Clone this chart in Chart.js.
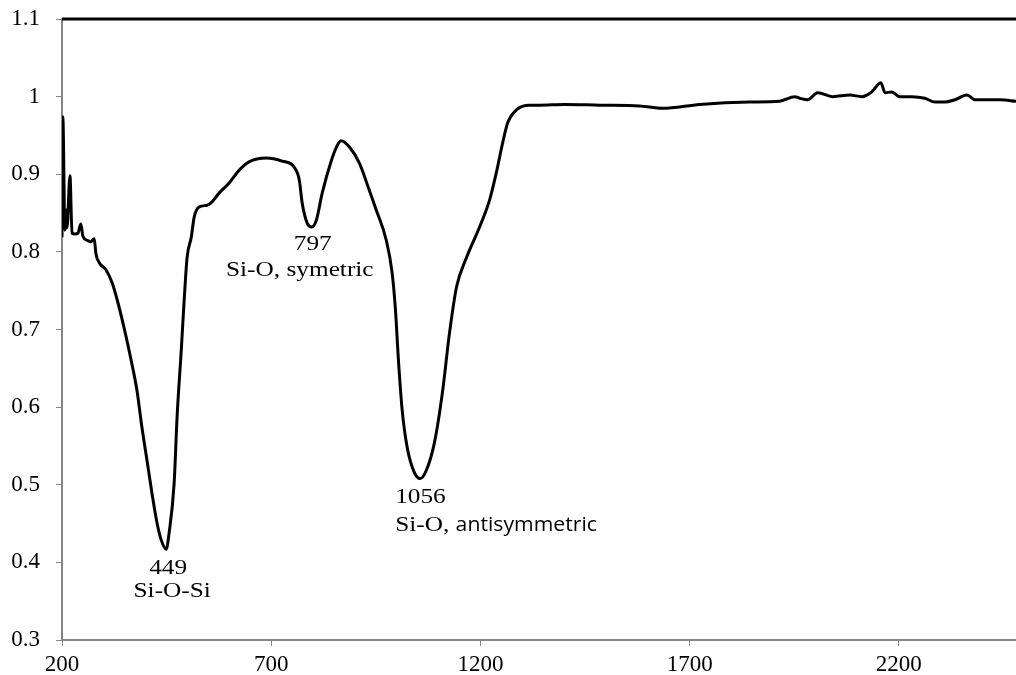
<!DOCTYPE html>
<html>
<head>
<meta charset="utf-8">
<script src="https://cdn.jsdelivr.net/npm/chart.js@4.4.1/dist/chart.umd.min.js"></script>
<style>
  html, body { margin: 0; padding: 0; background: #fff; }
  #wrap { width: 1016px; height: 675px; }
</style>
</head>
<body>
<div id="wrap"><canvas id="spektrum"></canvas></div>
<script>
// So song (cm-1) va do truyen qua, doc tu hinh
var wavenumber = [200, 202, 207, 210, 212, 219, 224, 231, 238, 245, 250, 260, 269, 277, 281, 289, 305, 320, 332,
  348, 365, 379, 391, 403, 415, 427, 437, 449, 456, 468, 475, 485, 492, 499, 509, 516, 528, 547, 556,
  576, 600, 623, 647, 688, 726, 755, 767, 774, 786, 797, 808, 822, 844, 856, 867, 887, 911, 934, 951,
  975, 989, 997, 1004, 1013, 1025, 1042, 1056, 1071, 1090, 1109, 1126, 1143, 1167, 1198, 1222, 1238,
  1253, 1265, 1286, 1317, 1341, 1400, 1485, 1580, 1635, 1724, 1843, 1915, 1951, 1963, 1982, 2006,
  2042, 2083, 2112, 2135, 2157, 2167, 2183, 2202, 2231, 2262, 2286, 2310, 2334, 2363, 2382, 2442, 2480];
var transmittance = [0.819, 0.974, 0.828, 0.854, 0.831, 0.898, 0.824, 0.823, 0.824, 0.836, 0.820, 0.815, 0.813, 0.817, 0.798, 0.786, 0.777, 0.760, 0.738,
  0.703, 0.661, 0.622, 0.574, 0.532, 0.489, 0.451, 0.429, 0.417, 0.438, 0.502, 0.587, 0.673, 0.738, 0.793, 0.819, 0.845, 0.858, 0.860, 0.863,
  0.876, 0.889, 0.905, 0.916, 0.921, 0.917, 0.909, 0.893, 0.863, 0.837, 0.832, 0.841, 0.876, 0.918, 0.935, 0.943, 0.935, 0.914, 0.880, 0.854,
  0.815, 0.773, 0.725, 0.661, 0.596, 0.548, 0.516, 0.508, 0.519, 0.554, 0.618, 0.695, 0.755, 0.793, 0.832, 0.867, 0.902,
  0.940, 0.966, 0.983, 0.989, 0.989, 0.990, 0.989, 0.988, 0.985, 0.990, 0.993, 0.994, 1.000, 0.998, 0.996, 1.005,
  1.000, 1.002, 1.000, 1.006, 1.018, 1.005, 1.006, 1.000, 1.000, 0.998, 0.993, 0.993, 0.996, 1.002, 0.996, 0.996, 0.994];

var xTicks = [200, 700, 1200, 1700, 2200];
var yTicks = [0.3, 0.4, 0.5, 0.6, 0.7, 0.8, 0.9, 1.0, 1.1];

// Cac dinh hap thu
var peakX = [449, 797, 1056];
var peakY = [0.417, 0.832, 0.508];
var peakName = ['Si-O-Si', 'Si-O, symetric', 'Si-O, antisymmetric'];

var diem = wavenumber.map(function (x, i) {
  return { x: x, y: transmittance[i] };
});

var serif = '"Liberation Serif", "Times New Roman", serif';

// chu hoi gian ngang giong hinh goc
function viet(ctx, text, x, y, align, k) {
  var w = ctx.measureText(text).width * k;
  var x0 = align === 'center' ? x - w / 2 : x;
  ctx.save();
  ctx.translate(x0, y);
  ctx.scale(k, 1);
  ctx.textAlign = 'left';
  ctx.fillText(text, 0, 0);
  ctx.restore();
  return w;
}

// ve duong vien tren + nhan dinh
var ghiChu = {
  id: 'ghiChu',
  afterDatasetsDraw: function (chart) {
    var ctx = chart.ctx;
    var xs = chart.scales.x, ys = chart.scales.y;
    var a = chart.chartArea;
    ctx.save();
    ctx.strokeStyle = '#000';
    ctx.lineWidth = 3;
    ctx.beginPath();
    ctx.moveTo(a.left, a.top);
    ctx.lineTo(a.right, a.top);
    ctx.stroke();

    ctx.fillStyle = '#000';
    ctx.textBaseline = 'middle';
    ctx.font = '22px ' + serif;

    // 449
    var px = xs.getPixelForValue(peakX[0]), py = ys.getPixelForValue(peakY[0]);
    viet(ctx, String(peakX[0]), px + 2, py + 19, 'center', 1.15);
    viet(ctx, peakName[0], px + 6, py + 42, 'center', 1.15);

    // 797
    px = xs.getPixelForValue(peakX[1]); py = ys.getPixelForValue(peakY[1]);
    viet(ctx, String(peakX[1]), px + 1, py + 17, 'center', 1.15);
    viet(ctx, peakName[1], px - 12, py + 43, 'center', 1.15);

    // 1056 (chu "antisymmetric" kieu sans)
    px = xs.getPixelForValue(peakX[2]); py = ys.getPixelForValue(peakY[2]);
    viet(ctx, String(peakX[2]), px - 25, py + 19, 'left', 1.15);
    var phan = peakName[2].split(' ');
    var w = viet(ctx, phan[0] + ' ', px - 25, py + 47, 'left', 1.15);
    ctx.font = '20px "Open Sans", "Liberation Sans", sans-serif';
    viet(ctx, phan[1], px - 25 + w, py + 47, 'left', 1.06);
    ctx.restore();
  }
};

new Chart(document.getElementById('spektrum'), {
  type: 'line',
  data: {
    datasets: [{
      data: diem,
      borderColor: '#000',
      borderWidth: 3,
      pointRadius: 0,
      tension: 0.3,
      cubicInterpolationMode: 'monotone',
      fill: false
    }]
  },
  options: {
    responsive: true,
    maintainAspectRatio: false,
    animation: false,
    layout: { padding: 0 },
    plugins: {
      legend: { display: false },
      tooltip: { enabled: false }
    },
    scales: {
      x: {
        type: 'linear',
        min: 200,
        max: 2480,
        afterBuildTicks: function (s) { s.ticks = xTicks.map(function (v) { return { value: v }; }); },
        afterFit: function (s) { s.height = 35; s.paddingLeft = 0; s.paddingRight = 0; },
        border: { color: '#868686', width: 2 },
        grid: { drawOnChartArea: false, color: '#868686', tickLength: 6 },
        ticks: {
          color: '#000',
          font: { family: serif, size: 23 },
          padding: 5,
          maxRotation: 0,
          callback: function (v) { return String(v); }
        }
      },
      y: {
        min: 0.3,
        max: 1.1,
        afterBuildTicks: function (s) { s.ticks = yTicks.map(function (v) { return { value: v }; }); },
        afterFit: function (s) { s.width = 62; s.paddingTop = 19; s.paddingBottom = 0; },
        border: { color: '#868686', width: 2 },
        grid: { drawOnChartArea: false, color: '#868686', tickLength: 6 },
        ticks: {
          color: '#000',
          font: { family: serif, size: 23 },
          padding: 16,
          callback: function (v) { return String(Number(v.toFixed(1))); }
        }
      }
    }
  },
  plugins: [ghiChu]
});
</script>
</body>
</html>
